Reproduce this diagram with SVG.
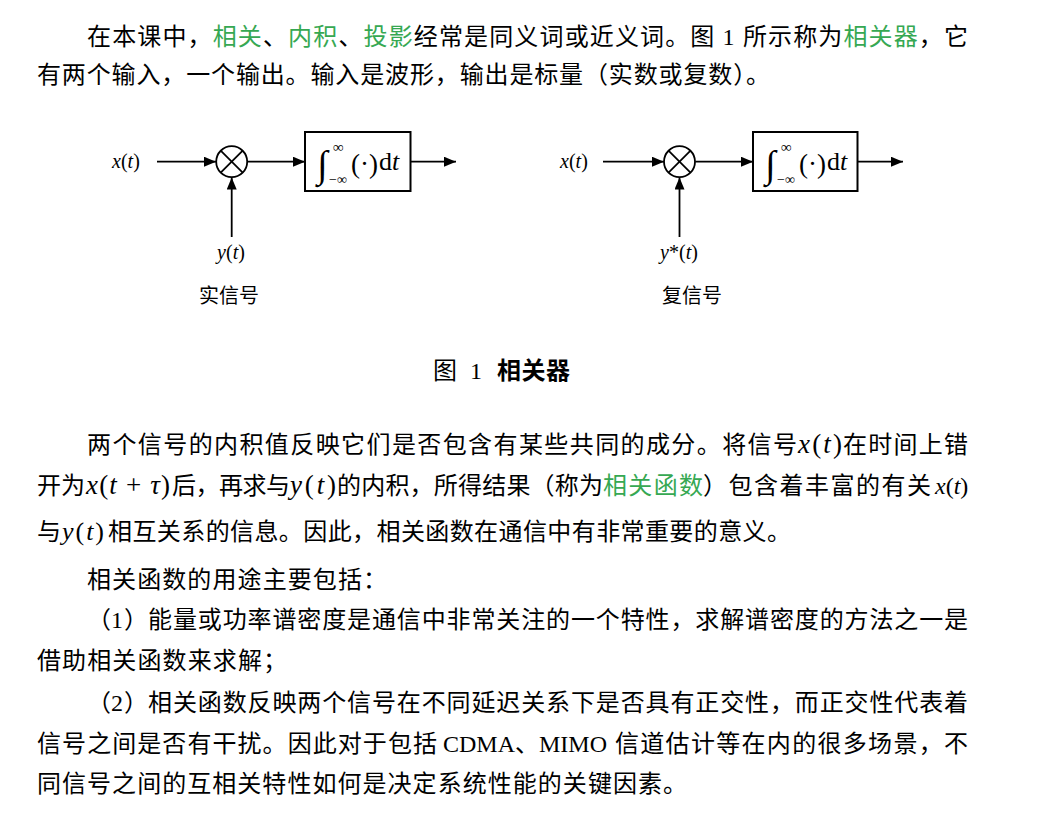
<svg xmlns="http://www.w3.org/2000/svg" width="1061" height="818" viewBox="0 0 1061 818">
<style>
.t{font-family:"Liberation Serif","Noto Sans CJK SC",serif;font-size:24px;fill:#000;font-variant-ligatures:none;font-feature-settings:"liga" 0,"calt" 0}
.g{fill:#36a852}
.m{font-family:"Liberation Serif","DejaVu Serif",serif;fill:#000}
.i{font-style:italic}
.lbl{font-family:"Liberation Serif","Noto Sans CJK SC",serif;font-size:20px;fill:#000}
.ln{stroke:#000;stroke-width:1.8;fill:none}
.box{stroke:#000;stroke-width:2;fill:#fff}
</style>
<defs>
<marker id="arr" markerUnits="userSpaceOnUse" markerWidth="12" markerHeight="10" refX="12" refY="5" orient="auto">
<path d="M0,0 L12,5 L0,10 z" fill="#000"/>
</marker>
</defs>
<rect width="1061" height="818" fill="#fff"/>

<g id="intro">
<text class="t" x="87" y="45" textLength="881" lengthAdjust="spacing">在本课中，<tspan class="g">相关</tspan>、<tspan class="g">内积</tspan>、<tspan class="g">投影</tspan>经常是同义词或近义词。图 1 所示称为<tspan class="g">相关器</tspan>，它</text>
<text class="t" x="37" y="83" textLength="733" lengthAdjust="spacing">有两个输入，一个输出。输入是波形，输出是标量（实数或复数）。</text>
</g>

<g id="connectors">
<line class="ln" x1="157" y1="161.7" x2="216" y2="161.7" marker-end="url(#arr)"/>
<line class="ln" x1="247.5" y1="161.7" x2="305" y2="161.7" marker-end="url(#arr)"/>
<line class="ln" x1="410.5" y1="161.7" x2="456" y2="161.7" marker-end="url(#arr)"/>
<line class="ln" x1="231.7" y1="237" x2="231.7" y2="177.5" marker-end="url(#arr)"/>
<line class="ln" x1="603" y1="161.7" x2="664" y2="161.7" marker-end="url(#arr)"/>
<line class="ln" x1="695.3" y1="161.7" x2="753" y2="161.7" marker-end="url(#arr)"/>
<line class="ln" x1="857.5" y1="161.7" x2="903" y2="161.7" marker-end="url(#arr)"/>
<line class="ln" x1="679.5" y1="237" x2="679.5" y2="177.5" marker-end="url(#arr)"/>
</g>

<g id="x-in-1"><text class="m" font-size="20" x="112" y="168"><tspan class="i">x</tspan>(<tspan class="i">t</tspan>)</text></g>
<g id="mult-1">
<circle class="ln" cx="231.7" cy="161.7" r="15.5"/>
<line class="ln" x1="220.7" y1="150.7" x2="242.7" y2="172.7"/>
<line class="ln" x1="242.7" y1="150.7" x2="220.7" y2="172.7"/>
</g>
<g id="integ-1">
<rect class="box" x="305" y="132" width="105.5" height="59"/>
<text class="m" font-size="38" x="317" y="177">∫</text>
<text class="m" font-size="15" x="333" y="152">∞</text>
<text class="m" font-size="14" x="329" y="184">−∞</text>
<text class="m" font-size="27" x="351" y="173">(·)</text>
<text class="m" font-size="26" x="379" y="170">d<tspan class="i">t</tspan></text>
</g>
<g id="y-in-1">
<text class="m" font-size="20" x="231" y="259" text-anchor="middle"><tspan class="i">y</tspan>(<tspan class="i">t</tspan>)</text>
<text class="lbl" x="229" y="303" text-anchor="middle">实信号</text>
</g>

<g id="x-in-2"><text class="m" font-size="20" x="560" y="168"><tspan class="i">x</tspan>(<tspan class="i">t</tspan>)</text></g>
<g id="mult-2">
<circle class="ln" cx="679.5" cy="161.7" r="15.5"/>
<line class="ln" x1="668.5" y1="150.7" x2="690.5" y2="172.7"/>
<line class="ln" x1="690.5" y1="150.7" x2="668.5" y2="172.7"/>
</g>
<g id="integ-2">
<rect class="box" x="753" y="132" width="104.5" height="59"/>
<text class="m" font-size="38" x="765" y="177">∫</text>
<text class="m" font-size="15" x="781" y="152">∞</text>
<text class="m" font-size="14" x="777" y="184">−∞</text>
<text class="m" font-size="27" x="799" y="173">(·)</text>
<text class="m" font-size="26" x="827" y="170">d<tspan class="i">t</tspan></text>
</g>
<g id="y-in-2">
<text class="m" font-size="20" x="679" y="259" text-anchor="middle"><tspan class="i">y</tspan>*(<tspan class="i">t</tspan>)</text>
<text class="lbl" x="692" y="303" text-anchor="middle">复信号</text>
</g>

<g id="caption">
<text class="t" x="433" y="379">图</text>
<text class="t" x="470" y="379">1</text>
<text class="t" x="497" y="379" font-weight="bold" textLength="73" lengthAdjust="spacing">相关器</text>
</g>

<g id="body">
<text class="t" x="87" y="453" textLength="710" lengthAdjust="spacing">两个信号的内积值反映它们是否包含有某些共同的成分。将信号</text>
<text class="m" font-size="27" x="798" y="453" textLength="44" lengthAdjust="spacing"><tspan class="i">x</tspan>(<tspan class="i">t</tspan>)</text>
<text class="t" x="843" y="453" textLength="125" lengthAdjust="spacing">在时间上错</text>

<text class="t" x="37" y="494" textLength="48" lengthAdjust="spacing">开为</text>
<text class="m" font-size="27" x="86" y="494" textLength="84" lengthAdjust="spacing"><tspan class="i">x</tspan>(<tspan class="i">t</tspan> + <tspan class="i">τ</tspan>)</text>
<text class="t" x="172" y="494" textLength="118" lengthAdjust="spacing">后，再求与</text>
<text class="m" font-size="27" x="290" y="494" textLength="46" lengthAdjust="spacing"><tspan class="i">y</tspan>(<tspan class="i">t</tspan>)</text>
<text class="t" x="337" y="494" textLength="266" lengthAdjust="spacing">的内积，所得结果（称为</text>
<text class="t g" x="603" y="494" textLength="100" lengthAdjust="spacing">相关函数</text>
<text class="t" x="703" y="494" textLength="228" lengthAdjust="spacing">）包含着丰富的有关</text>
<text class="m" font-size="24" x="935" y="494"><tspan class="i">x</tspan>(<tspan class="i">t</tspan>)</text>

<text class="t" x="37" y="540">与</text>
<text class="m" font-size="26" x="62" y="540" textLength="42" lengthAdjust="spacing"><tspan class="i">y</tspan>(<tspan class="i">t</tspan>)</text>
<text class="t" x="108" y="540" textLength="683" lengthAdjust="spacing">相互关系的信息。因此，相关函数在通信中有非常重要的意义。</text>

<text class="t" x="87" y="588" textLength="300" lengthAdjust="spacing">相关函数的用途主要包括：</text>

<text class="t" x="87" y="628">（</text>
<text class="t" x="111" y="628">1</text>
<text class="t" x="124" y="628">）</text>
<text class="t" x="148" y="628" textLength="820" lengthAdjust="spacing">能量或功率谱密度是通信中非常关注的一个特性，求解谱密度的方法之一是</text>
<text class="t" x="37" y="669" textLength="250" lengthAdjust="spacing">借助相关函数来求解；</text>

<text class="t" x="87" y="711">（</text>
<text class="t" x="111" y="711">2</text>
<text class="t" x="124" y="711">）</text>
<text class="t" x="148" y="711" textLength="820" lengthAdjust="spacing">相关函数反映两个信号在不同延迟关系下是否具有正交性，而正交性代表着</text>
<text class="t" x="37" y="752" textLength="400" lengthAdjust="spacing">信号之间是否有干扰。因此对于包括</text>
<text class="t" x="443" y="752" textLength="72" lengthAdjust="spacing">CDMA</text>
<text class="t" x="515" y="752">、</text>
<text class="t" x="539" y="752" textLength="68" lengthAdjust="spacing">MIMO</text>
<text class="t" x="615" y="752" textLength="353" lengthAdjust="spacing">信道估计等在内的很多场景，不</text>
<text class="t" x="37" y="792" textLength="650" lengthAdjust="spacing">同信号之间的互相关特性如何是决定系统性能的关键因素。</text>
</g>
</svg>
